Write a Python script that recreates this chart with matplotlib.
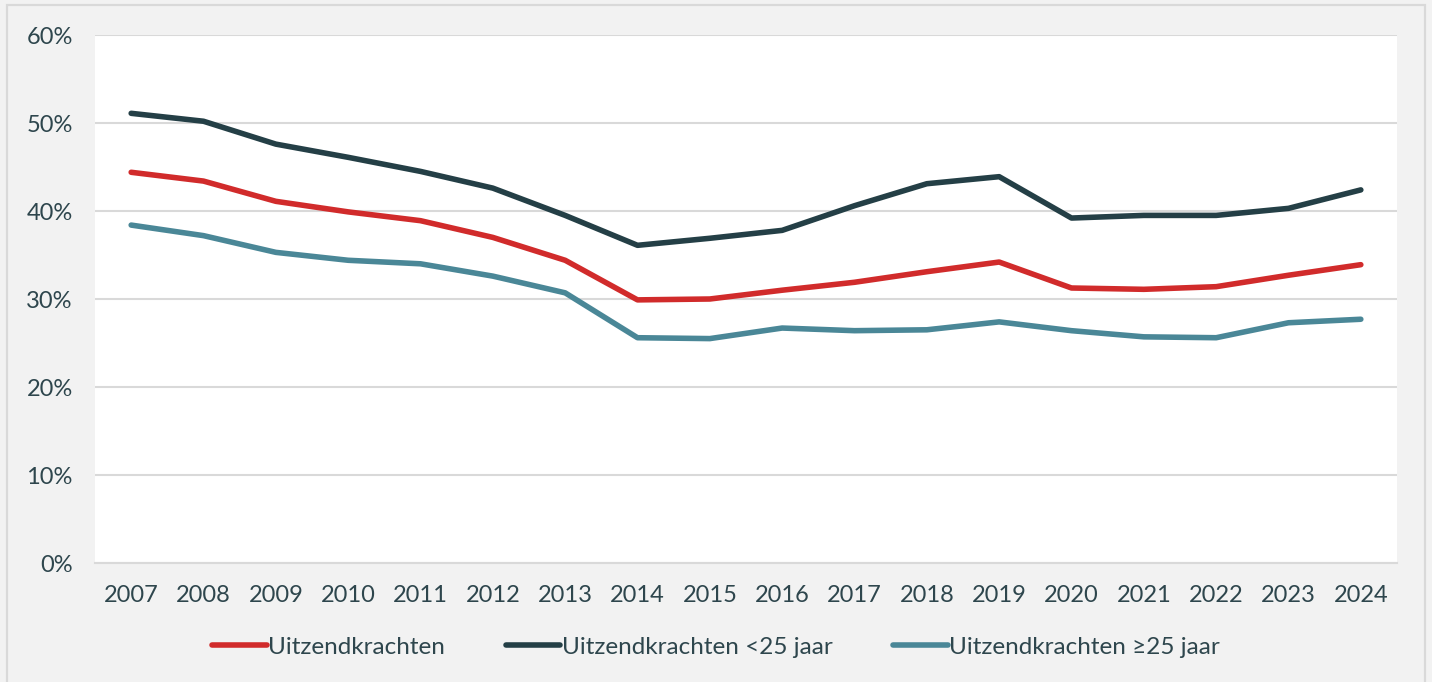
import numpy as np
import matplotlib.pyplot as plt
from matplotlib.patches import Rectangle
from matplotlib.ticker import PercentFormatter

years = [str(y) for y in range(2007, 2025)]
totaal = [44.4, 43.4, 41.1, 39.9, 38.9, 37.0, 34.4, 29.9, 30.0, 31.0,
          31.9, 33.1, 34.2, 31.25, 31.1, 31.4, 32.7, 33.9]
jong = [51.1, 50.2, 47.6, 46.1, 44.5, 42.6, 39.5, 36.1, 36.9, 37.8,
        40.6, 43.1, 43.9, 39.2, 39.5, 39.5, 40.3, 42.4]
oud = [38.4, 37.2, 35.3, 34.4, 34.0, 32.6, 30.7, 25.6, 25.5, 26.7,
       26.4, 26.5, 27.4, 26.4, 25.7, 25.6, 27.3, 27.7]
labels = ['Uitzendkrachten', 'Uitzendkrachten <25 jaar', 'Uitzendkrachten \u226525 jaar']
colors = ['#d12b2b', '#243f46', '#4a8797']

text_col = '#2e464d'
grid_col = '#d9d9d9'
plt.rcParams['font.family'] = ['Lato', 'DejaVu Sans']

fig = plt.figure(figsize=(14.32, 6.82), dpi=100)
fig.patch.set_facecolor('#f2f2f2')
fig.patches.append(Rectangle((7 / 1432, -0.01), 1418 / 1432, 1 - 5 / 682 + 0.01,
                             transform=fig.transFigure, fill=False,
                             edgecolor=grid_col, linewidth=1.6))

ax = fig.add_axes([95 / 1432, 1 - 563 / 682, 1302 / 1432, 528 / 682])
ax.set_facecolor('white')
x = np.arange(len(years))
for vals, lab, c in zip([totaal, jong, oud], labels, colors):
    ax.plot(x, vals, color=c, linewidth=4.0, label=lab,
            solid_capstyle='round', solid_joinstyle='round')

ax.set_xlim(-0.5, len(years) - 0.5)
ax.set_ylim(0, 60)
ax.set_yticks(np.arange(0, 61, 10))
ax.yaxis.set_major_formatter(PercentFormatter(decimals=0))
ax.set_xticks(x)
ax.set_xticklabels(years)
ax.grid(axis='y', color=grid_col, linewidth=1.5)
ax.set_axisbelow(True)
for s in ['left', 'right', 'top']:
    ax.spines[s].set_visible(False)
ax.spines['bottom'].set_color(grid_col)
ax.spines['bottom'].set_linewidth(1.5)
ax.tick_params(axis='both', length=0, labelsize=17, colors=text_col)
ax.tick_params(axis='x', pad=16)
ax.tick_params(axis='y', pad=16)

leg = fig.legend(loc='center', bbox_to_anchor=(0.5, 1 - 647 / 682), ncol=3,
                 frameon=False, fontsize=17.5, handlelength=2.25,
                 handletextpad=0.05, columnspacing=2.5)
for t in leg.get_texts():
    t.set_color(text_col)

fig.savefig('out.png', dpi=100, facecolor=fig.get_facecolor())
